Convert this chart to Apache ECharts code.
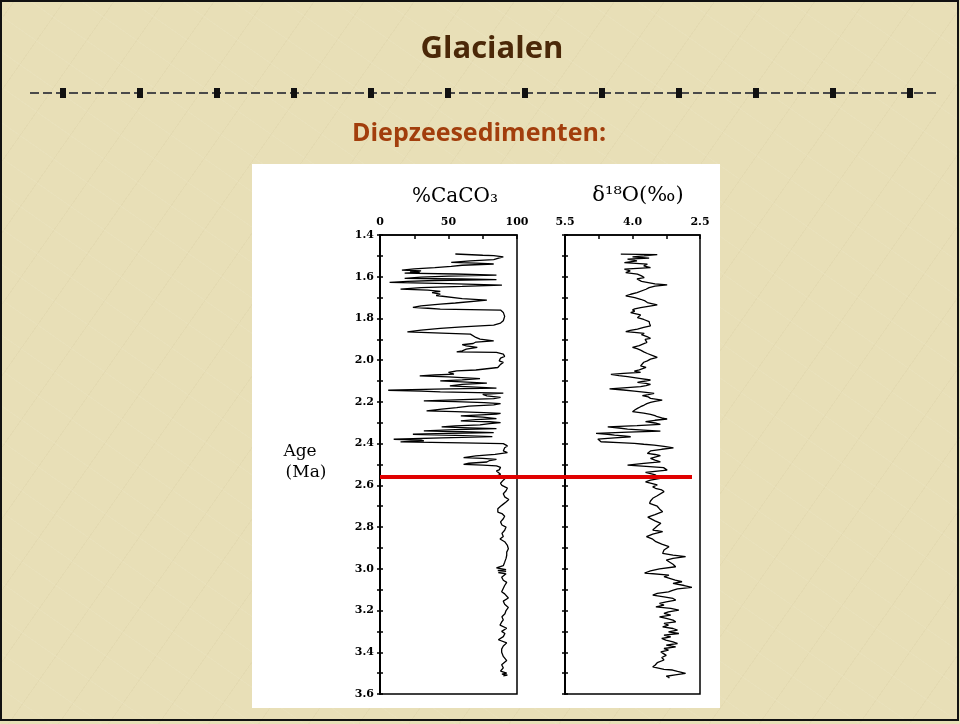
<!DOCTYPE html>
<html>
<head>
<meta charset="utf-8">
<script src="https://cdn.jsdelivr.net/npm/echarts@6/dist/echarts.min.js"></script>
<style>
  html, body { margin:0; padding:0; width:960px; height:724px; overflow:hidden; }
  body {
    background-color:#e8dfb7;
    background-image:
      repeating-linear-gradient(35deg, rgba(255,255,255,0.06) 0px, rgba(255,255,255,0.06) 1px, transparent 1px, transparent 29px),
      repeating-linear-gradient(-55deg, rgba(150,130,80,0.05) 0px, rgba(150,130,80,0.05) 1px, transparent 1px, transparent 41px);
    position:relative;
  }
  #frame { position:absolute; left:0; top:0; width:959px; height:721px; box-sizing:border-box; border:2px solid #111; }
  #panel { position:absolute; left:252px; top:164px; width:468px; height:544px; background:#fff; }
  #chart { position:absolute; left:0; top:0; width:960px; height:724px; }
</style>
</head>
<body>
<div id="panel"></div>
<div id="frame"></div>
<div id="chart"></div>
<script>
// ---------------- DATA ----------------
const ageTickLabels = ['1.4','1.6','1.8','2.0','2.2','2.4','2.6','2.8','3.0','3.2','3.4','3.6'];
const caco3TickLabels = [0, 50, 100];
const d18oTickLabels = [5.5, 4.0, 2.5];
const boundaryAge = [2.56, 2.56];

const caco3Age = [
1.491,1.497,1.499,1.505,1.512,1.518,1.524,1.531,1.535,1.539,1.545,1.550,1.556,1.562,1.568,1.572,1.576,1.579,1.583,1.587,
1.592,1.597,1.602,1.608,1.611,1.614,1.618,1.622,1.627,1.633,1.640,1.646,1.652,1.659,1.664,1.670,1.676,1.683,1.690,1.699,
1.705,1.712,1.720,1.726,1.731,1.740,1.747,1.751,1.755,1.760,1.771,1.790,1.811,1.822,1.832,1.840,1.848,1.856,1.864,1.870,
1.875,1.883,1.891,1.899,1.907,1.913,1.920,1.926,1.931,1.939,1.947,1.955,1.960,1.963,1.971,1.982,1.990,1.995,2.003,2.011,
2.020,2.027,2.035,2.043,2.047,2.051,2.059,2.067,2.071,2.075,2.080,2.088,2.094,2.099,2.104,2.110,2.116,2.123,2.129,2.134,
2.139,2.144,2.148,2.152,2.158,2.164,2.171,2.178,2.184,2.190,2.195,2.199,2.203,2.208,2.214,2.220,2.227,2.235,2.243,2.247,
2.251,2.255,2.259,2.263,2.267,2.273,2.280,2.285,2.291,2.295,2.299,2.304,2.310,2.315,2.320,2.324,2.328,2.333,2.339,2.343,
2.347,2.351,2.355,2.360,2.366,2.372,2.379,2.383,2.387,2.390,2.392,2.396,2.400,2.411,2.420,2.427,2.435,2.443,2.451,2.459,
2.467,2.471,2.475,2.481,2.488,2.494,2.499,2.503,2.507,2.514,2.520,2.526,2.531,2.540,2.547,2.556,2.563,2.575,2.590,2.600,
2.613,2.626,2.640,2.655,2.668,2.680,2.690,2.700,2.712,2.720,2.728,2.735,2.748,2.760,2.775,2.790,2.800,2.815,2.830,2.845,
2.857,2.870,2.888,2.904,2.920,2.935,2.950,2.968,2.985,2.995,3.000,3.004,3.008,3.012,3.018,3.024,3.032,3.040,3.055,3.065,
3.080,3.110,3.120,3.140,3.155,3.170,3.185,3.200,3.215,3.230,3.245,3.255,3.270,3.285,3.300,3.310,3.325,3.340,3.355,3.370,
3.385,3.400,3.420,3.440,3.460,3.475,3.490,3.500,3.505,3.510,3.513
];
const caco3Pct = [
55,75,83,90,86,83,66,52,70,83,60,52,40,25,16,30,22,29,18,55,
85,50,30,18,60,85,40,20,7,50,89,60,30,15,35,44,38,44,41,41,
60,78,78,55,44,30,24,35,44,88,90,91,90,88,83,60,44,30,20,45,
66,67,70,73,83,70,68,60,63,71,63,60,56,85,90,91,88,89,87,90,
88,88,86,85,70,56,50,54,40,29,50,73,60,44,60,78,60,51,70,85,
40,6,30,44,90,75,78,88,83,55,32,55,76,88,83,65,56,45,34,55,
76,88,85,70,59,75,85,70,59,80,88,80,73,55,45,65,85,55,32,60,
83,50,24,55,82,45,10,30,32,18,15,60,90,93,91,92,90,93,84,70,
61,75,85,80,78,65,61,75,85,88,89,87,85,86,88,85,92,90,88,89,
93,92,90,91,94,92,90,88,86,84.7,86,89,91,90,88,89,92,91,89,90,
87.6,91,93,93.7,92.5,92.5,92,91,90,85,84.7,92,86,92,86.4,92,91,88.8,90,92.5,
91,88.8,91,93.7,90,91,93.7,92,91.2,89,90,88.8,87.6,92.5,88.8,91.2,90,86.4,92.5,90,
88.8,88.8,90,92.5,88.8,90,88,92.5,89,93,90
];

const d18oAge = [
1.492,1.494,1.500,1.505,1.511,1.516,1.524,1.532,1.540,1.548,1.556,1.564,1.572,1.580,1.588,1.596,1.604,1.610,1.617,1.622,
1.628,1.634,1.639,1.645,1.652,1.660,1.668,1.676,1.684,1.692,1.700,1.708,1.716,1.724,1.730,1.735,1.742,1.748,1.754,1.759,
1.765,1.772,1.778,1.783,1.790,1.796,1.805,1.815,1.825,1.835,1.843,1.851,1.857,1.863,1.868,1.872,1.878,1.883,1.890,1.895,
1.900,1.907,1.915,1.923,1.930,1.939,1.945,1.952,1.960,1.968,1.978,1.987,1.995,2.003,2.010,2.019,2.027,2.035,2.039,2.046,
2.052,2.058,2.063,2.068,2.074,2.079,2.087,2.095,2.101,2.106,2.111,2.116,2.122,2.127,2.133,2.138,2.143,2.148,2.154,2.159,
2.165,2.170,2.176,2.183,2.191,2.197,2.202,2.208,2.215,2.223,2.231,2.239,2.247,2.254,2.260,2.266,2.271,2.277,2.282,2.288,
2.295,2.301,2.308,2.314,2.320,2.325,2.330,2.335,2.340,2.345,2.351,2.355,2.359,2.363,2.367,2.372,2.378,2.385,2.391,2.395,
2.399,2.403,2.407,2.413,2.420,2.427,2.435,2.441,2.447,2.452,2.458,2.465,2.471,2.479,2.487,2.495,2.503,2.509,2.515,2.521,
2.527,2.533,2.538,2.544,2.550,2.558,2.567,2.575,2.583,2.590,2.598,2.607,2.614,2.622,2.630,2.638,2.650,2.662,2.675,2.686,
2.700,2.713,2.726,2.740,2.752,2.758,2.770,2.782,2.795,2.814,2.822,2.834,2.846,2.858,2.870,2.882,2.894,2.910,2.926,2.934,
2.942,2.950,2.958,2.966,2.978,2.990,3.000,3.010,3.020,3.025,3.030,3.038,3.046,3.054,3.062,3.070,3.080,3.089,3.096,3.103,
3.110,3.118,3.126,3.134,3.142,3.150,3.158,3.166,3.174,3.182,3.190,3.198,3.206,3.214,3.222,3.230,3.238,3.246,3.254,3.262,
3.270,3.278,3.286,3.294,3.302,3.310,3.318,3.326,3.334,3.342,3.350,3.358,3.366,3.374,3.382,3.390,3.398,3.405,3.415,3.425,
3.437,3.450,3.462,3.470,3.477,3.482,3.485,3.492,3.501,3.508,3.515,3.520,3.525
];
const d18oVal = [
4.26,3.45,3.74,4.00,3.63,4.11,3.90,4.18,3.67,3.75,3.60,4.18,4.05,4.15,3.89,3.80,3.74,3.90,3.93,3.80,
3.78,3.50,3.23,3.50,3.63,3.70,3.74,3.90,4.04,4.15,3.95,3.82,3.72,3.67,3.55,3.45,3.65,3.82,3.95,4.00,
3.95,4.04,3.92,3.82,3.86,3.89,3.75,3.63,3.62,3.60,3.75,3.89,4.05,4.15,3.90,3.74,3.80,3.78,3.65,3.60,
3.72,3.71,3.68,3.67,3.85,4.00,3.90,3.82,3.75,3.67,3.55,3.45,3.60,3.67,3.75,3.78,3.82,3.70,3.67,3.85,
3.96,3.82,4.20,4.48,4.30,4.11,3.85,3.60,3.75,3.89,3.70,3.60,3.70,3.82,4.20,4.51,4.20,3.96,3.70,3.52,
3.65,3.78,3.65,3.60,3.34,3.50,3.60,3.68,3.74,3.82,3.89,3.95,4.00,3.75,3.60,3.50,3.45,3.35,3.23,3.50,
3.71,3.50,3.38,3.90,4.55,4.30,4.11,3.75,3.38,4.10,4.81,4.55,4.40,4.20,4.04,4.40,4.77,4.75,4.70,4.30,
3.96,3.75,3.52,3.30,3.09,3.35,3.60,3.64,3.67,3.50,3.38,3.50,3.60,3.50,3.38,3.75,4.11,3.70,3.31,3.28,
3.23,3.50,3.71,3.60,3.49,3.45,3.38,3.60,3.71,3.69,3.45,3.55,3.49,3.35,3.30,3.26,3.45,3.55,3.60,3.62,
3.45,3.40,3.33,3.50,3.66,3.66,3.50,3.37,3.45,3.55,3.33,3.55,3.69,3.55,3.48,3.35,3.19,3.30,3.33,3.10,
2.82,3.10,3.25,3.26,3.10,3.04,3.40,3.60,3.73,3.73,3.19,3.30,3.33,3.05,2.90,3.10,2.85,2.68,3.00,3.11,
3.20,3.45,3.55,3.30,3.10,3.04,3.25,3.40,3.30,3.48,3.15,2.97,3.20,3.30,3.15,3.40,3.25,3.10,3.04,3.30,
3.20,3.33,3.10,3.00,3.20,2.97,3.30,3.15,3.35,3.26,3.10,3.00,3.25,3.04,3.30,3.20,3.37,3.40,3.25,3.35,
3.30,3.45,3.50,3.55,3.55,3.30,3.11,3.00,2.82,3.05,3.25,3.19,3.19
];

// ---------------- CHART ----------------
const chart = echarts.init(document.getElementById('chart'), null, { renderer: 'canvas' });

const serif = 'DejaVu Serif';
const tickFont = { fontFamily: serif, fontWeight: 'bold', fontSize: 11, color: '#000' };
const near = (v, arr) => arr.some(a => Math.abs(a - v) < 1e-6);

function ageAxis(grid, withLabels, inside) {
  return {
    gridIndex: grid, type: 'value', inverse: true, min: 1.4, max: 3.6, interval: 0.1, position: 'left',
    axisLine: { show: !inside, lineStyle: { color: '#000', width: 2 } },
    axisTick: { show: true, inside: inside, length: 3, lineStyle: { color: '#000', width: 1.5 } },
    axisLabel: {
      show: withLabels && !inside, margin: 6, ...tickFont,
      formatter: v => { const s = v.toFixed(1); return ageTickLabels.includes(s) ? s : ''; }
    },
    splitLine: { show: false }
  };
}

// decorative dashed separator with square beads
const deco = [{ type: 'line', shape: { x1: 30, y1: 93, x2: 940, y2: 93 },
  style: { stroke: '#4a4a4a', lineWidth: 2, lineDash: [9, 4] }, silent: true }];
for (let k = 0; k < 12; k++) {
  const cx = 63 + 77 * k;
  deco.push({ type: 'rect', shape: { x: cx - 3, y: 88, width: 6, height: 10 }, style: { fill: '#111' }, silent: true });
}

const option = {
  animation: false,
  backgroundColor: 'transparent',
  grid: [
    { left: 380, top: 235, width: 137, height: 459, show: true, borderColor: '#000', borderWidth: 1.5, backgroundColor: 'transparent' },
    { left: 565, top: 235, width: 135, height: 459, show: true, borderColor: '#000', borderWidth: 1.5, backgroundColor: 'transparent' },
    { left: 380, top: 235, width: 312, height: 459, show: false }
  ],
  xAxis: [
    { gridIndex: 0, type: 'value', position: 'top', min: 0, max: 100, interval: 25,
      axisLine: { lineStyle: { color: '#000', width: 1.5 } },
      axisTick: { inside: true, length: 4, lineStyle: { color: '#000', width: 1.5 } },
      axisLabel: { margin: 7, ...tickFont, formatter: v => near(v, caco3TickLabels) ? String(v) : '' },
      splitLine: { show: false } },
    { gridIndex: 1, type: 'value', position: 'top', min: 2.5, max: 5.5, interval: 0.75, inverse: true,
      axisLine: { lineStyle: { color: '#000', width: 1.5 } },
      axisTick: { inside: true, length: 4, lineStyle: { color: '#000', width: 1.5 } },
      axisLabel: { margin: 7, ...tickFont, formatter: v => near(v, d18oTickLabels) ? v.toFixed(1) : '' },
      splitLine: { show: false } },
    { gridIndex: 2, type: 'value', min: 0, max: 1, show: false }
  ],
  yAxis: [
    ageAxis(0, true, false),
    ageAxis(0, false, true),
    ageAxis(1, false, false),
    ageAxis(1, false, true),
    { gridIndex: 2, type: 'value', inverse: true, min: 1.4, max: 3.6, show: false }
  ],
  series: [
    { name: '%CaCO3', type: 'line', xAxisIndex: 0, yAxisIndex: 0, showSymbol: false, symbol: 'none',
      lineStyle: { color: '#000', width: 1.3 }, data: caco3Age.map((a, i) => [caco3Pct[i], a]) },
    { name: 'd18O', type: 'line', xAxisIndex: 1, yAxisIndex: 2, showSymbol: false, symbol: 'none',
      lineStyle: { color: '#000', width: 1.3 }, data: d18oAge.map((a, i) => [d18oVal[i], a]) },
    { name: 'boundary', type: 'line', xAxisIndex: 2, yAxisIndex: 4, showSymbol: false, symbol: 'none', z: 10,
      lineStyle: { color: '#e00000', width: 4 }, data: boundaryAge.map((a, i) => [i, a]) }
  ],
  graphic: deco.concat([
    { type: 'text', silent: true, style: { text: 'Glacialen', x: 492, y: 49, align: 'center', verticalAlign: 'middle',
      font: 'bold 31px "Open Sans", sans-serif', fill: '#4b2808' } },
    { type: 'text', silent: true, style: { text: 'Diepzeesedimenten:', x: 479, y: 134, align: 'center', verticalAlign: 'middle',
      font: 'bold 25px "Open Sans", sans-serif', fill: '#a23e0c' } },
    { type: 'text', silent: true, style: { text: '%CaCO₃', x: 455, y: 197, align: 'center', verticalAlign: 'middle',
      font: '20px "DejaVu Serif", serif', fill: '#000' } },
    { type: 'text', silent: true, style: { text: 'δ¹⁸O(‰)', x: 638, y: 196, align: 'center', verticalAlign: 'middle',
      font: '21px "DejaVu Serif", serif', fill: '#000' } },
    { type: 'text', silent: true, style: { text: 'Age', x: 300, y: 452, align: 'center', verticalAlign: 'middle',
      font: '17px "DejaVu Serif", serif', fill: '#000' } },
    { type: 'text', silent: true, style: { text: '(Ma)', x: 306, y: 473, align: 'center', verticalAlign: 'middle',
      font: '17px "DejaVu Serif", serif', fill: '#000' } }
  ])
};
chart.setOption(option);
</script>
</body>
</html>
